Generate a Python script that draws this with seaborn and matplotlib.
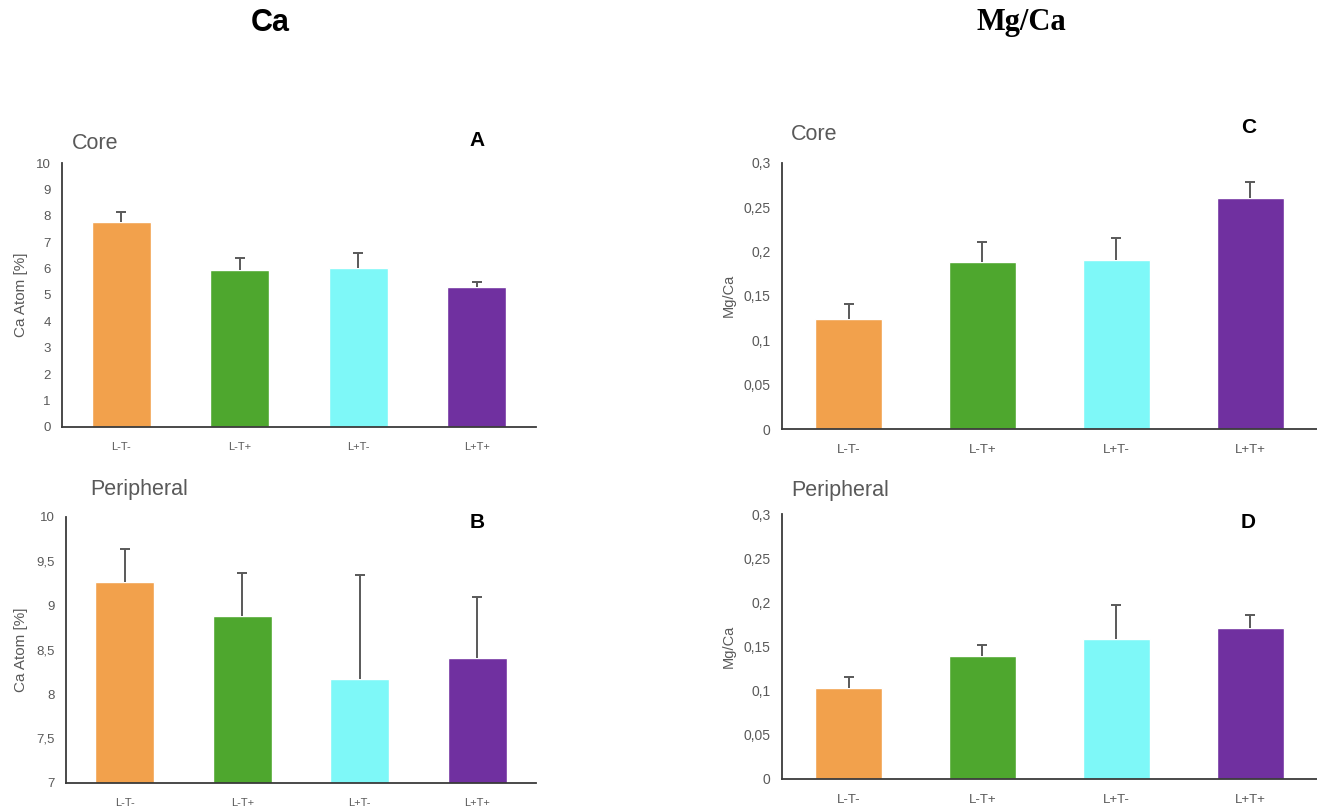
import matplotlib
matplotlib.use("Agg")
import matplotlib.pyplot as plt
import seaborn as sns
import pandas as pd

# data
groups = ["L-T-", "L-T+", "L+T-", "L+T+"]
bar_colors = ["#F2A14C", "#4EA72E", "#7EF8F8", "#7030A0"]

ca_core = [7.78, 5.95, 6.01, 5.29]
ca_core_err = [0.37, 0.44, 0.57, 0.21]
ca_peri = [9.26, 8.88, 8.17, 8.41]
ca_peri_err = [0.38, 0.48, 1.17, 0.68]

mgca_core = [0.124, 0.1885, 0.190, 0.260]
mgca_core_err = [0.0165, 0.022, 0.025, 0.0186]
mgca_peri = [0.1035, 0.1398, 0.1583, 0.1715]
mgca_peri_err = [0.012, 0.0122, 0.0392, 0.0144]

ca_core_ticks = list(range(0, 11))
ca_peri_ticks = [7, 7.5, 8, 8.5, 9, 9.5, 10]
mgca_ticks = [0, 0.05, 0.1, 0.15, 0.2, 0.25, 0.3]

sns.set_theme(style="white")
plt.rcParams["font.family"] = ["Liberation Sans", "DejaVu Sans"]

GRAY = "#595959"

fig = plt.figure(figsize=(13.17, 8.07), dpi=100)


def fmt(v):
    return ("%g" % v).replace(".", ",")


def panel(rect, values, errs, ticks, ylabel, xsize, ysize, labsize, labx):
    ax = fig.add_axes(rect)
    df = pd.DataFrame({"group": groups, "value": values})
    sns.barplot(data=df, x="group", y="value", hue="group", palette=bar_colors,
                order=groups, hue_order=groups, legend=False, width=0.5,
                errorbar=None, saturation=1, ax=ax)
    centers = [p.get_x() + p.get_width() / 2 for p in ax.patches]
    _, caps, _ = ax.errorbar(centers, values, yerr=[[0] * len(errs), errs], fmt="none",
                             ecolor=GRAY, elinewidth=1.4, capsize=3.5, capthick=1.4,
                             zorder=1)
    caps[0].set_visible(False)  # only the upper whisker is drawn
    ax.set_ylim(ticks[0], ticks[-1])
    ax.set_xlim(-0.5, len(groups) - 0.5)
    ax.set_yticks(ticks)
    ax.set_yticklabels([fmt(t) for t in ticks])
    ax.tick_params(axis="y", length=0, pad=8, labelsize=ysize, labelcolor=GRAY)
    ax.tick_params(axis="x", length=0, pad=11, labelsize=xsize, labelcolor=GRAY)
    ax.set_xlabel("")
    ax.set_ylabel(ylabel, fontsize=labsize, color=GRAY)
    ax.yaxis.set_label_coords(labx, 0.5)
    for s in ["top", "right"]:
        ax.spines[s].set_visible(False)
    for s in ["left", "bottom"]:
        ax.spines[s].set_color("#3a3a3a")
        ax.spines[s].set_linewidth(1.3)
    return ax


panel([0.0471, 0.4709, 0.3599, 0.3271], ca_core, ca_core_err, ca_core_ticks,
      "Ca Atom [%]", 8, 9.5, 11, -0.072)
panel([0.0501, 0.0301, 0.3569, 0.3296], ca_peri, ca_peri_err, ca_peri_ticks,
      "Ca Atom [%]", 8, 9.5, 11, -0.081)
panel([0.5935, 0.4684, 0.4065, 0.3300], mgca_core, mgca_core_err, mgca_ticks,
      "Mg/Ca", 9.5, 10, 10.5, -0.086)
panel([0.5935, 0.0347, 0.4065, 0.3280], mgca_peri, mgca_peri_err, mgca_ticks,
      "Mg/Ca", 9.5, 10, 10.5, -0.086)

# column titles
fig.text(0.205, 0.9715, "Ca", ha="center", va="center", fontsize=22, color="black",
         fontweight="bold", family=["Liberation Sans Narrow", "Liberation Sans"])
fig.text(0.7753, 0.9715, "Mg/Ca", ha="center", va="center", fontsize=22, color="black",
         fontweight="bold", family=["Liberation Serif"])

# region labels
fig.text(0.0547, 0.8228, "Core", ha="left", va="center", fontsize=15.5, color=GRAY)
fig.text(0.0683, 0.394, "Peripheral", ha="left", va="center", fontsize=15.5, color=GRAY)
fig.text(0.6006, 0.833, "Core", ha="left", va="center", fontsize=15.5, color=GRAY)
fig.text(0.6011, 0.3928, "Peripheral", ha="left", va="center", fontsize=15.5, color=GRAY)

# panel letters
for x, y, letter in [(0.3626, 0.8259, "A"), (0.3626, 0.352, "B"),
                     (0.948, 0.8414, "C"), (0.948, 0.3523, "D")]:
    fig.text(x, y, letter, ha="center", va="center", fontsize=15,
             fontweight="bold", color="black")

fig.savefig("out.png", dpi=100)
